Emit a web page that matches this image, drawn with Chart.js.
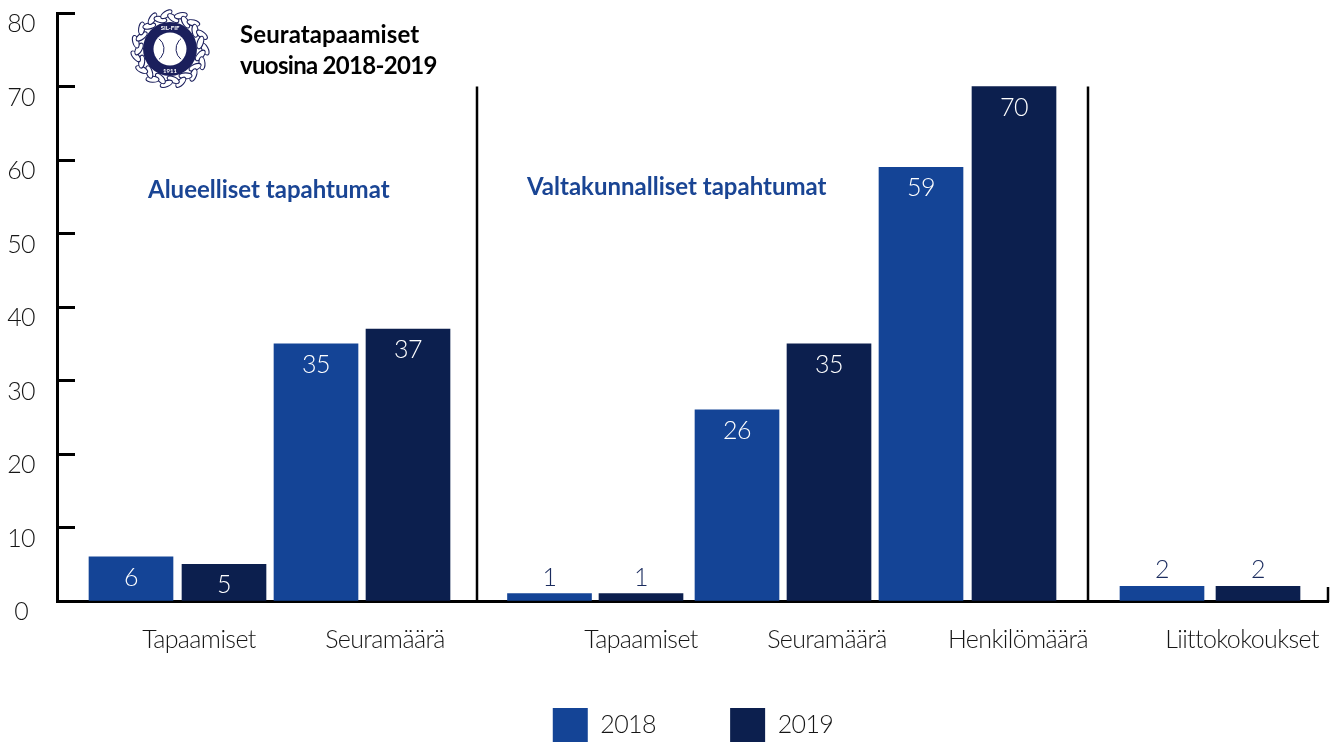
<!DOCTYPE html>
<html><head><meta charset="utf-8">
<style>html,body{margin:0;padding:0;background:#fff;overflow:hidden}#w{width:1336px;height:742px}</style>
<script src="https://cdn.jsdelivr.net/npm/chart.js@4"></script></head>
<body><div id="w"><canvas id="c" width="1336" height="742"></canvas></div>
<script>
const categories=["Tapaamiset","Seuramäärä","Tapaamiset","Seuramäärä","Henkilömäärä","Liittokokoukset"];
const values2018=[6,35,1,26,59,2];
const values2019=[5,37,1,35,70,2];
const yTicks=[0,10,20,30,40,50,60,70,80];
// layout only: horizontal slots along the plot
const slots2018=[74,259,492.5,680,864,1105];
const slots2019=[167,351,584,772,957,1201];
const labelSlots=[142,328,584,770,961,1185];
const dividerSlots=[420,1031];
const BLUE='#144496',NAVY='#0c1f4e',INK='#161616',FONT='"Lato",sans-serif',TIGHT='-0.6px';
const noPad=s=>{s.paddingLeft=s.paddingRight=s.paddingTop=s.paddingBottom=0;};
const extras={id:'extras',
 beforeLayout(ch){ch.ctx.letterSpacing=TIGHT;},
 afterLayout(ch){ch.legend.left+=58;},
 beforeDraw(ch){ch.ctx.letterSpacing=TIGHT;},
 afterDatasetsDraw(ch){
  const c=ch.ctx,x=ch.scales.x,y=ch.scales.y;
  c.save();
  c.strokeStyle='#000';c.lineWidth=2.5;
  dividerSlots.forEach(s=>{const p=x.getPixelForValue(s);c.beginPath();c.moveTo(p,y.getPixelForValue(70));c.lineTo(p,y.getPixelForValue(0));c.stroke();});
  c.beginPath();c.moveTo(x.right,y.getPixelForValue(0)+1);c.lineTo(x.right,y.getPixelForValue(0)-14);c.stroke();
  c.font='300 25px '+FONT;c.textAlign='center';c.textBaseline='middle';
  ch.data.datasets.forEach((d,i)=>{
   ch.getDatasetMeta(i).data.forEach((b,j)=>{
    const v=d.data[j].y,inside=v>=5;
    c.fillStyle=inside?'#fff':'#1a2b5e';
    c.fillText(String(v),b.x,inside?b.y+21:b.y-16);
   });
  });
  c.fillStyle='#000';c.font='bold 24px '+FONT;c.textAlign='left';
  c.letterSpacing='0.1px';
  c.fillText('Seuratapaamiset',240,35);
  c.letterSpacing='-0.7px';
  c.fillText('vuosina 2018-2019',240,66);
  c.letterSpacing='0px';
  c.fillStyle='#1a4594';
  c.fillText('Alueelliset tapahtumat',148,190);
  c.fillText('Valtakunnalliset tapahtumat',527,187);
  // emblem
  const cx=170,cy=49;
  c.strokeStyle='#1b1f5c';c.lineWidth=1.1;
  for(let a=0;a<30;a++){
   const t=a/30*Math.PI*2,r=a%2?31:35;
   c.save();c.translate(cx+Math.cos(t)*r,cy+Math.sin(t)*r);c.rotate(t+Math.PI/2+(a%2?0.5:-0.5));
   c.beginPath();c.ellipse(0,0,6.5,3,0,0,7);c.fillStyle='#fff';c.fill();c.stroke();c.restore();
  }
  c.fillStyle='#1b1f5c';c.beginPath();c.arc(cx,cy,27,0,7);c.fill();
  c.fillStyle='#fff';c.beginPath();c.arc(cx,cy,16.5,0,7);c.fill();
  c.strokeStyle='#1b1f5c';c.lineWidth=1;
  c.beginPath();c.arc(cx-19,cy,13,-0.9,0.9);c.stroke();
  c.beginPath();c.arc(cx+19,cy,13,Math.PI-0.9,Math.PI+0.9);c.stroke();
  c.fillStyle='#fff';c.font='bold 6px '+FONT;c.textAlign='center';
  c.fillText('SIL-FIF',cx,cy-21);c.fillText('1911',cx,cy+22);
  c.restore();
 }};
const labelFont={family:FONT,size:25,weight:'300'};
new Chart(document.getElementById('c'),{
 type:'bar',
 data:{datasets:[
  {label:'2018',data:values2018.map((v,i)=>({x:slots2018[i],y:v})),backgroundColor:BLUE},
  {label:'2019',data:values2019.map((v,i)=>({x:slots2019[i],y:v})),backgroundColor:NAVY}]},
 options:{responsive:false,animation:false,
  layout:{autoPadding:false,padding:{left:0,right:8,top:13,bottom:-10}},
  datasets:{bar:{barThickness:84,grouped:false}},
  plugins:{tooltip:{enabled:false},
   legend:{position:'bottom',labels:{boxWidth:35,boxHeight:34,padding:0,color:INK,font:labelFont,
     generateLabels(ch){return ch.data.datasets.map((d,i)=>({text:d.label+(i==0?'\u00a0'.repeat(12):''),fillStyle:d.backgroundColor,strokeStyle:d.backgroundColor,lineWidth:0,datasetIndex:i,fontColor:INK}));}}}},
  scales:{
   x:{type:'linear',min:0,max:1271,offset:false,
    grid:{display:false,drawTicks:false},
    border:{display:true,color:'#000',width:3},
    afterBuildTicks(s){s.ticks=labelSlots.map(v=>({value:v}));},
    afterFit(s){s.height=107;noPad(s);},
    ticks:{autoSkip:false,maxRotation:0,padding:24,color:INK,font:labelFont,
     callback(v,i){return categories[i];}}},
   y:{min:0,max:80,
    afterBuildTicks(s){s.ticks=yTicks.map(v=>({value:v}));},
    afterFit(s){s.width=57;noPad(s);},
    grid:{drawOnChartArea:false,drawTicks:true,tickLength:-18,tickWidth:3,tickColor:'#000'},
    border:{display:true,color:'#000',width:3},
    ticks:{padding:40,labelOffset:11,crossAlign:'center',autoSkip:false,color:INK,font:labelFont}}
  }},
 plugins:[extras]});
</script></body></html>
